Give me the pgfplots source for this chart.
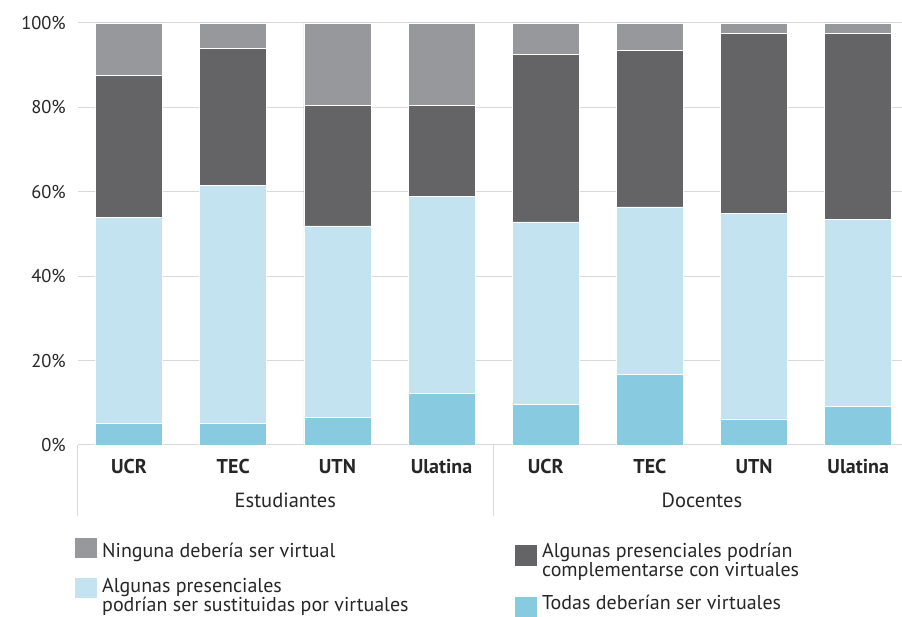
\documentclass[border=0pt]{standalone}
\usepackage{fontspec}
\setmainfont{PT Sans}
\usepackage{pgfplots}
\pgfplotsset{compat=1.18}

\definecolor{ninguna}{RGB}{151,152,156}
\definecolor{complem}{RGB}{100,100,102}
\definecolor{sustit}{RGB}{196,227,240}
\definecolor{todas}{RGB}{136,203,225}
\definecolor{gridgray}{RGB}{217,217,217}

\begin{document}
\begin{tikzpicture}
\useasboundingbox (-78pt,-172pt) rectangle (824pt,445pt);
\begin{axis}[
  scale only axis,
  width=825pt, height=422pt,
  xmin=-0.49, xmax=7.43,
  ymin=0, ymax=100,
  enlarge y limits=false,
  ybar stacked, bar width=67pt,
  axis line style={draw=none},
  tick style={draw=none},
  ymajorgrids, grid style={gridgray, line width=1pt},
  ytick={0,20,40,60,80,100},
  yticklabels={0\%,20\%,40\%,60\%,80\%,100\%},
  yticklabel style={font=\fontsize{18.5}{22}\selectfont, anchor=east, inner sep=0pt, xshift=-12pt, text=black!85},
  xtick={0,...,7},
  xticklabels={UCR,TEC,UTN,Ulatina,UCR,TEC,UTN,Ulatina},
  xticklabel style={font=\bfseries\fontsize{20}{24}\selectfont, anchor=base, inner sep=0pt, yshift=-29pt, text=black!85},
  clip=false,
  every axis plot/.append style={draw=white, line width=0.5pt},
]
\addplot[fill=todas] coordinates {(0,5.2)(1,5.2)(2,6.6)(3,12.2)(4,9.7)(5,16.8)(6,6.2)(7,9.2)};
\addplot[fill=sustit] coordinates {(0,48.8)(1,56.3)(2,45.3)(3,46.7)(4,43.2)(5,39.6)(6,48.7)(7,44.3)};
\addplot[fill=complem] coordinates {(0,33.6)(1,32.5)(2,28.6)(3,21.6)(4,39.7)(5,37.2)(6,42.6)(7,44.0)};
\addplot[fill=ninguna] coordinates {(0,12.4)(1,6.0)(2,19.5)(3,19.5)(4,7.4)(5,6.4)(6,2.5)(7,2.5)};

% group separators and group names
\draw[gridgray, line width=1pt] (axis cs:-0.49,0) -- ([yshift=-71pt]axis cs:-0.49,0);
\draw[gridgray, line width=1pt] (axis cs:3.5,0) -- ([yshift=-71pt]axis cs:3.5,0);
\node[anchor=base, inner sep=0pt, font=\fontsize{20.5}{24}\selectfont, text=black!85] at ([yshift=-63pt]axis cs:1.5,0) {Estudiantes};
\node[anchor=base, inner sep=0pt, font=\fontsize{20.5}{24}\selectfont, text=black!85] at ([yshift=-63pt]axis cs:5.5,0) {Docentes};
\end{axis}

% legend
\begin{scope}[every node/.style={anchor=base west, inner sep=0pt, font=\fontsize{20}{23}\selectfont, text=black!85}]
\fill[ninguna] (-3pt,-93pt) rectangle (19pt,-113pt);
\node at (24pt,-113pt) {Ninguna debería ser virtual};
\fill[sustit] (-3pt,-133pt) rectangle (19pt,-153pt);
\node at (24pt,-148pt) {Algunas presenciales};
\node at (24pt,-167pt) {podrían ser sustituidas por virtuales};
\fill[complem] (437pt,-100pt) rectangle (459pt,-121pt);
\node at (464pt,-113pt) {Algunas presenciales podrían};
\node at (464pt,-132pt) {complementarse con virtuales};
\fill[todas] (437pt,-152pt) rectangle (459pt,-172pt);
\node at (464pt,-165pt) {Todas deberían ser virtuales};
\end{scope}
\end{tikzpicture}
\end{document}
